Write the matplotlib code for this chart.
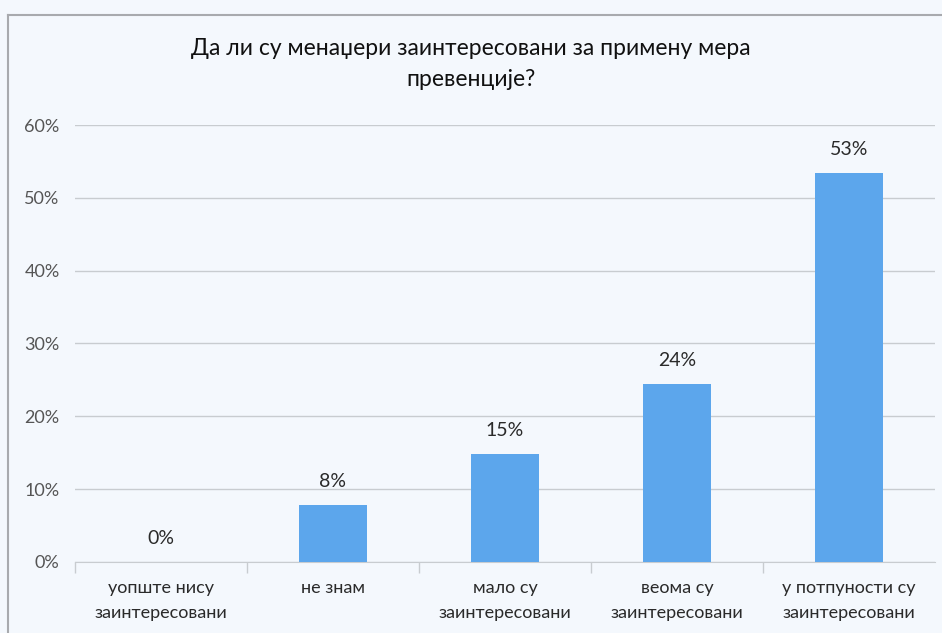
"""Bar chart: interest of managers in prevention measures."""
import matplotlib.pyplot as plt
from matplotlib.lines import Line2D
from matplotlib.ticker import FuncFormatter, FixedLocator

categories = [
    "уопште нису\nзаинтересовани",
    "не знам",
    "мало су\nзаинтересовани",
    "веома су\nзаинтересовани",
    "у потпуности су\nзаинтересовани",
]
shares = [0.0, 0.078, 0.148, 0.244, 0.534]
value_labels = ["0%", "8%", "15%", "24%", "53%"]
y_ticks = [0.0, 0.1, 0.2, 0.3, 0.4, 0.5, 0.6]

col_background = "#f4f8fd"
col_bar = "#5ca6ec"
col_grid = "#c8ccd0"
col_frame = "#a8aaae"
col_text = "#2a2a2a"

plt.rcParams["font.family"] = ["Lato", "DejaVu Sans"]

fig = plt.figure(figsize=(9.42, 6.33), dpi=100)
fig.patch.set_facecolor(col_background)
ax = fig.add_axes([0.0796, 0.1122, 0.913, 0.6903])
ax.set_facecolor(col_background)

# Chart frame (only top and left edges are visible in the scan)
fig.add_artist(Line2D([8 / 942, 8 / 942], [0, 1 - 15 / 633], color=col_frame, linewidth=1.5))
fig.add_artist(Line2D([8 / 942, 1], [1 - 15 / 633, 1 - 15 / 633], color=col_frame, linewidth=1.5))

x = list(range(len(categories)))
ax.bar(x, shares, width=0.39, color=col_bar, zorder=3)

for xi, val, lab in zip(x, shares, value_labels):
    ax.annotate(lab, (xi, val), xytext=(0, 11), textcoords="offset points",
                ha="center", va="bottom", fontsize=14, color=col_text)

ax.set_xlim(-0.5, len(categories) - 0.5)
ax.set_ylim(0, 0.6)
ax.yaxis.set_major_locator(FixedLocator(y_ticks))
ax.yaxis.set_major_formatter(FuncFormatter(lambda v, _: f"{v * 100:.0f}%"))
ax.grid(axis="y", color=col_grid, linewidth=1, zorder=0)

ax.set_xticks(x)
ax.set_xticklabels(categories, fontsize=13, color=col_text, linespacing=1.7)
ax.tick_params(axis="x", length=0, pad=13)
ax.set_xticks([i + 0.5 for i in x[:-1]] + [-0.5], minor=True)
ax.tick_params(axis="x", which="minor", length=8, color=col_grid, width=1)
ax.tick_params(axis="y", length=0, pad=11, labelsize=13, labelcolor="#555555")

for side in ["top", "right", "left"]:
    ax.spines[side].set_visible(False)
ax.spines["bottom"].set_color(col_grid)

fig.text(0.5, 0.94, "Да ли су менаџери заинтересовани за примену мера\nпревенције?",
         ha="center", va="top", fontsize=16.5, color="#111111", linespacing=1.6)

fig.savefig("out.png", dpi=100, facecolor=col_background)
